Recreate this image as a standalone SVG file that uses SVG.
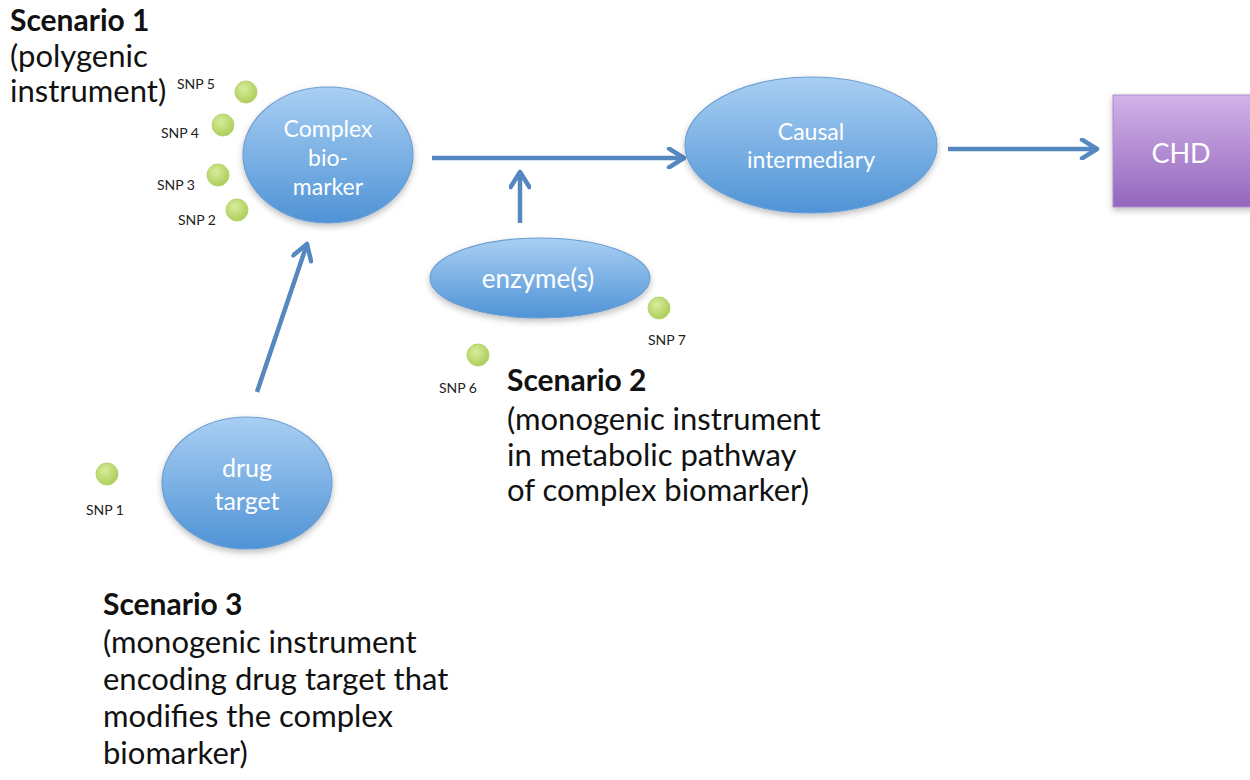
<svg xmlns="http://www.w3.org/2000/svg" width="1250" height="780" viewBox="0 0 1250 780">
<defs>
<linearGradient id="blue" x1="0" y1="0" x2="0" y2="1">
<stop offset="0" stop-color="#a9cff3"/>
<stop offset="1" stop-color="#4f93d6"/>
</linearGradient>
<linearGradient id="purple" x1="0" y1="0" x2="0" y2="1">
<stop offset="0" stop-color="#d1b3e8"/>
<stop offset="1" stop-color="#9466bd"/>
</linearGradient>
<radialGradient id="green" cx="0.4" cy="0.35" r="0.7">
<stop offset="0" stop-color="#d8ec9c"/>
<stop offset="1" stop-color="#a9cc55"/>
</radialGradient>
<filter id="sh" x="-20%" y="-20%" width="140%" height="150%">
<feDropShadow dx="0" dy="3" stdDeviation="3" flood-color="#000" flood-opacity="0.25"/>
</filter>
<marker id="arr" viewBox="0 0 12 12" refX="10" refY="6" markerWidth="5" markerHeight="5" orient="auto" markerUnits="strokeWidth">
<path d="M2,1 L10,6 L2,11" fill="none" stroke="#5688c0" stroke-width="2.4" stroke-linecap="round" stroke-linejoin="round"/>
</marker>
</defs>
<style>
.node{fill:url(#blue);stroke:#6d9fd2;stroke-width:1.2;filter:url(#sh)}
.nt{font-family:Lato,"Open Sans",sans-serif;fill:#ffffff;text-anchor:middle}
.snp{fill:url(#green);stroke:#b8d470;stroke-width:1}
.sl{font-family:Lato,"Open Sans",sans-serif;font-size:14px;fill:#222;text-anchor:middle}
.conn{stroke:#5688c0;stroke-width:4.5;fill:none;marker-end:url(#arr)}
.sc{font-family:Lato,"Open Sans",sans-serif;font-size:31px;fill:#111}
.scb{font-weight:bold;font-size:30px}
</style>

<g id="connectors">
<line class="conn" x1="432" y1="158" x2="684" y2="158"/>
<line class="conn" x1="520" y1="223" x2="520" y2="172"/>
<line class="conn" x1="948" y1="149" x2="1097" y2="149"/>
<line class="conn" x1="257" y1="392" x2="307" y2="244"/>
</g>

<g id="scenario1">
<text class="sc scb" x="10" y="31">Scenario 1</text>
<text class="sc" x="10" y="67">(polygenic</text>
<text class="sc" x="10" y="102">instrument)</text>
</g>

<g id="complex-biomarker">
<ellipse class="node" cx="328" cy="155" rx="85" ry="68"/>
<text class="nt" x="328" y="137" font-size="23">Complex</text>
<text class="nt" x="328" y="166" font-size="23">bio-</text>
<text class="nt" x="328" y="195" font-size="23">marker</text>
</g>

<g id="causal-intermediary">
<ellipse class="node" cx="811" cy="145" rx="126" ry="68"/>
<text class="nt" x="811" y="140" font-size="23">Causal</text>
<text class="nt" x="811" y="168" font-size="23">intermediary</text>
</g>

<g id="chd">
<rect x="1113" y="95" width="140" height="112" fill="url(#purple)" stroke="#a98bc8" stroke-width="1" filter="url(#sh)"/>
<text class="nt" x="1181" y="163" font-size="27">CHD</text>
</g>

<g id="enzymes">
<ellipse class="node" cx="540" cy="278" rx="110" ry="40"/>
<text class="nt" x="538" y="288" font-size="26">enzyme(s)</text>
</g>

<g id="drug-target">
<ellipse class="node" cx="247" cy="483" rx="85" ry="66"/>
<text class="nt" x="247" y="477" font-size="25">drug</text>
<text class="nt" x="247" y="510" font-size="25">target</text>
</g>

<g id="snp5"><circle class="snp" cx="246" cy="92" r="11"/><text class="sl" x="196" y="89">SNP 5</text></g>
<g id="snp4"><circle class="snp" cx="223" cy="125" r="11"/><text class="sl" x="180" y="138">SNP 4</text></g>
<g id="snp3"><circle class="snp" cx="218" cy="175" r="11"/><text class="sl" x="176" y="190">SNP 3</text></g>
<g id="snp2"><circle class="snp" cx="237" cy="210" r="11"/><text class="sl" x="197" y="225">SNP 2</text></g>
<g id="snp1"><circle class="snp" cx="107" cy="474" r="11"/><text class="sl" x="105" y="515">SNP 1</text></g>
<g id="snp6"><circle class="snp" cx="478" cy="355" r="11"/><text class="sl" x="458" y="393">SNP 6</text></g>
<g id="snp7"><circle class="snp" cx="659" cy="308" r="11"/><text class="sl" x="667" y="345">SNP 7</text></g>

<g id="scenario2">
<text class="sc scb" x="507" y="391">Scenario 2</text>
<text class="sc" x="507" y="430">(monogenic instrument</text>
<text class="sc" x="507" y="466">in metabolic pathway</text>
<text class="sc" x="507" y="501">of complex biomarker)</text>
</g>

<g id="scenario3">
<text class="sc scb" x="103" y="615">Scenario 3</text>
<text class="sc" x="103" y="653">(monogenic instrument</text>
<text class="sc" x="103" y="690">encoding drug target that</text>
<text class="sc" x="103" y="727">modifies the complex</text>
<text class="sc" x="103" y="764">biomarker)</text>
</g>
</svg>
